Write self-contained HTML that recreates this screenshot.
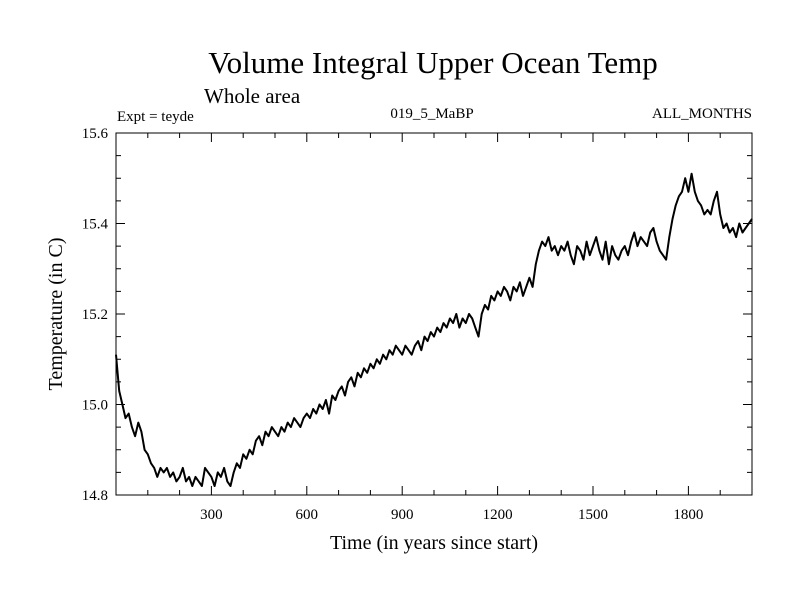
<!DOCTYPE html>
<html><head><meta charset="utf-8">
<style>
body{margin:0;background:#fff}
svg{display:block}
text{font-family:"Liberation Serif",serif;fill:#000}
</style></head>
<body>
<svg id="chart" width="800" height="600">
<text x="433" y="73" font-size="31" text-anchor="middle">Volume Integral Upper Ocean Temp</text>
<text x="204" y="103" font-size="21">Whole area</text>
<text x="117" y="121" font-size="15">Expt = teyde</text>
<text x="432" y="118" font-size="15" text-anchor="middle">019_5_MaBP</text>
<text x="752" y="118" font-size="15" text-anchor="end">ALL_MONTHS</text>
<text x="434" y="549" font-size="20" text-anchor="middle">Time (in years since start)</text>
<text transform="translate(62,314) rotate(-90)" font-size="20" text-anchor="middle">Temperature (in C)</text>
<g id="axes"></g>
<path id="series" fill="none" stroke="#000" stroke-width="2" stroke-linejoin="round"></path>
</svg>
<script>
const years0 = 0, yearStep = 10;
const temps = [15.11,15.03,15.00,14.97,14.98,14.95,14.93,14.96,14.94,14.90,14.89,
14.87,14.86,14.84,14.86,14.85,14.86,14.84,14.85,14.83,14.84,
14.86,14.83,14.84,14.82,14.84,14.83,14.82,14.86,14.85,14.84,
14.82,14.85,14.84,14.86,14.83,14.82,14.85,14.87,14.86,14.89,
14.88,14.90,14.89,14.92,14.93,14.91,14.94,14.93,14.95,14.94,
14.93,14.95,14.94,14.96,14.95,14.97,14.96,14.95,14.97,14.98,
14.97,14.99,14.98,15.00,14.99,15.01,14.98,15.02,15.01,15.03,
15.04,15.02,15.05,15.06,15.04,15.07,15.06,15.08,15.07,15.09,
15.08,15.10,15.09,15.11,15.10,15.12,15.11,15.13,15.12,15.11,
15.13,15.12,15.11,15.13,15.14,15.12,15.15,15.14,15.16,15.15,
15.17,15.16,15.18,15.17,15.19,15.18,15.20,15.17,15.19,15.18,
15.20,15.19,15.17,15.15,15.20,15.22,15.21,15.24,15.23,15.25,
15.24,15.26,15.25,15.23,15.26,15.25,15.27,15.24,15.26,15.28,
15.26,15.31,15.34,15.36,15.35,15.37,15.34,15.35,15.33,15.35,
15.34,15.36,15.33,15.31,15.35,15.34,15.32,15.36,15.33,15.35,
15.37,15.34,15.32,15.36,15.31,15.35,15.33,15.32,15.34,15.35,
15.33,15.36,15.38,15.35,15.37,15.36,15.35,15.38,15.39,15.36,
15.34,15.33,15.32,15.37,15.41,15.44,15.46,15.47,15.50,15.47,
15.51,15.47,15.45,15.44,15.42,15.43,15.42,15.45,15.47,15.42,
15.39,15.40,15.38,15.39,15.37,15.40,15.38,15.39,15.40,15.41];
const xTicks = [300,600,900,1200,1500,1800];
const yTicks = [14.8,15.0,15.2,15.4,15.6];
const yTickLabels = ["14.8","15.0","15.2","15.4","15.6"];

const L=116,R=752,T=133,B=495, X0=0,X1=2000,Y0=14.8,Y1=15.6;
const sx=v=>L+(v-X0)/(X1-X0)*(R-L);
const sy=v=>B-(v-Y0)/(Y1-Y0)*(B-T);
const NS="http://www.w3.org/2000/svg";
const ax=document.getElementById('axes');
function mk(tag,attrs){const e=document.createElementNS(NS,tag);for(const k in attrs)e.setAttribute(k,attrs[k]);ax.appendChild(e);return e;}
const frame=mk('rect',{x:L,y:T,width:R-L,height:B-T,fill:'none',stroke:'#000','stroke-width':1});


for(let v=100;v<X1;v+=100){
  const major=xTicks.includes(v);const len=major?9:5;
  const t1=mk('line',{x1:sx(v),x2:sx(v),y1:B,y2:B-len,stroke:'#000'});
  
  
  const t2=mk('line',{x1:sx(v),x2:sx(v),y1:T,y2:T+len,stroke:'#000'});
  
  
}
xTicks.forEach(v=>{
  const t=mk('text',{x:sx(v),y:B+24,'font-size':15,'text-anchor':'middle'});t.textContent=v;
  
  
});
for(let i=0;i<=16;i++){
  const v=Y0+i*0.05;const major=i%4===0;const len=major?9:5;
  const t1=mk('line',{x1:L,x2:L+len,y1:sy(v),y2:sy(v),stroke:'#000'});
  
  
  const t2=mk('line',{x1:R,x2:R-len,y1:sy(v),y2:sy(v),stroke:'#000'});
  
  
}
yTicks.forEach((v,i)=>{
  const t=mk('text',{x:L-8,y:sy(v)+5,'font-size':15,'text-anchor':'end'});t.textContent=yTickLabels[i];
  
  
});
document.getElementById('series').setAttribute('d',temps.map((t,i)=>(i?'L':'M')+sx(years0+i*yearStep).toFixed(1)+','+sy(t).toFixed(1)).join(''));
</script>
</body></html>
